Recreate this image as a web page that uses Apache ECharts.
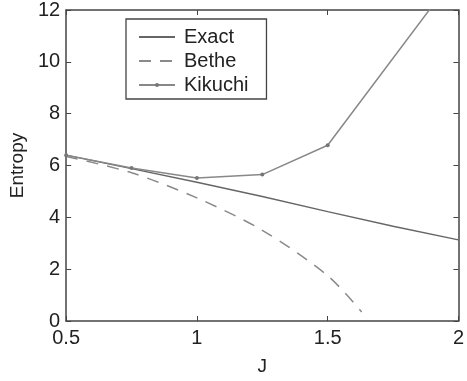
<!DOCTYPE html>
<html><head><meta charset="utf-8">
<script src="https://cdn.jsdelivr.net/npm/echarts@6/dist/echarts.min.js"></script>
<style>html,body{margin:0;padding:0;background:#fff}#c{width:467px;height:381px}</style>
</head><body><div id="c"></div>
<script>
const exactJ = [0.5, 0.75, 1.0, 1.25, 1.5, 1.75, 2.0];
const exactS = [6.4, 5.88, 5.35, 4.8, 4.22, 3.66, 3.13];
const betheJ = [0.5, 0.75, 1.0, 1.25, 1.5, 1.63];
const betheS = [6.35, 5.72, 4.75, 3.5, 1.75, 0.35];
const kikuchiJ = [0.5, 0.75, 1.0, 1.25, 1.5, 2.0];
const kikuchiS = [6.4, 5.9, 5.52, 5.65, 6.78, 13.5];
const xTicks = [0.5, 1, 1.5, 2];
const yTicks = [0, 2, 4, 6, 8, 10, 12];
const seriesNames = ['Exact', 'Bethe', 'Kikuchi'];

const zip = (a, b) => a.map((v, i) => [v, b[i]]);
const font = 'Liberation Sans, Arial, Helvetica, sans-serif';
const axisColor = '#444';
const chart = echarts.init(document.getElementById('c'), null, {renderer: 'canvas'});
chart.setOption({
  animation: false,
  backgroundColor: '#fff',
  grid: {left: 64, right: 5, top: 7, bottom: 60},
  legend: {
    left: 126, top: 19, orient: 'vertical',
    itemWidth: 36, itemHeight: 5, itemGap: 4,
    padding: [8, 18, 4, 12],
    borderColor: '#444', borderWidth: 1.3, backgroundColor: '#fff',
    textStyle: {fontFamily: font, fontSize: 20, color: '#222', padding: [0, 0, 0, 4]},
    data: [
      {name: seriesNames[0], itemStyle: {opacity: 0}},
      {name: seriesNames[1], itemStyle: {opacity: 0}},
      {name: seriesNames[2]}
    ]
  },
  xAxis: [{
    type: 'value', min: xTicks[0], max: xTicks[xTicks.length - 1], interval: 0.5,
    name: 'J', nameLocation: 'middle', nameGap: 36,
    nameTextStyle: {fontFamily: font, fontSize: 19, color: '#222'},
    axisLine: {lineStyle: {color: axisColor, width: 1.5}},
    axisTick: {inside: true, length: 5, lineStyle: {color: axisColor}},
    axisLabel: {fontFamily: font, fontSize: 20, color: '#222', margin: 7},
    splitLine: {show: false}
  }, {
    type: 'value', position: 'top', min: 0.5, max: 2, interval: 0.5,
    axisLine: {show: true, onZero: false, lineStyle: {color: axisColor, width: 1.5}},
    axisTick: {inside: true, length: 5, lineStyle: {color: axisColor}},
    axisLabel: {show: false}, splitLine: {show: false}
  }],
  yAxis: [{
    type: 'value', min: yTicks[0], max: yTicks[yTicks.length - 1], interval: 2,
    name: 'Entropy', nameLocation: 'middle', nameGap: 32, nameRotate: 90,
    nameTextStyle: {fontFamily: font, fontSize: 19, color: '#222'},
    axisLine: {show: true, lineStyle: {color: axisColor, width: 1.5}},
    axisTick: {show: true, inside: true, length: 5, lineStyle: {color: axisColor}},
    axisLabel: {fontFamily: font, fontSize: 20, color: '#222', margin: 6},
    splitLine: {show: false}
  }, {
    type: 'value', position: 'right', min: 0, max: 12, interval: 2,
    axisLine: {show: true, onZero: false, lineStyle: {color: axisColor, width: 1.5}},
    axisTick: {show: true, inside: true, length: 5, lineStyle: {color: axisColor}},
    axisLabel: {show: false}, splitLine: {show: false}
  }],
  series: [{
    name: seriesNames[0], type: 'line', data: zip(exactJ, exactS), symbol: 'none',
    lineStyle: {color: '#666', width: 1.5}, itemStyle: {color: '#666'}
  }, {
    name: seriesNames[1], type: 'line', data: zip(betheJ, betheS), symbol: 'none',
    smooth: 0.3, lineStyle: {color: '#8a8a8a', width: 1.5, type: [12, 9]}, itemStyle: {color: '#8a8a8a'}
  }, {
    name: seriesNames[2], type: 'line', data: zip(kikuchiJ, kikuchiS), symbol: 'circle', symbolSize: 4,
    lineStyle: {color: '#888', width: 1.5}, itemStyle: {color: '#777'}
  }]
});
</script></body></html>
